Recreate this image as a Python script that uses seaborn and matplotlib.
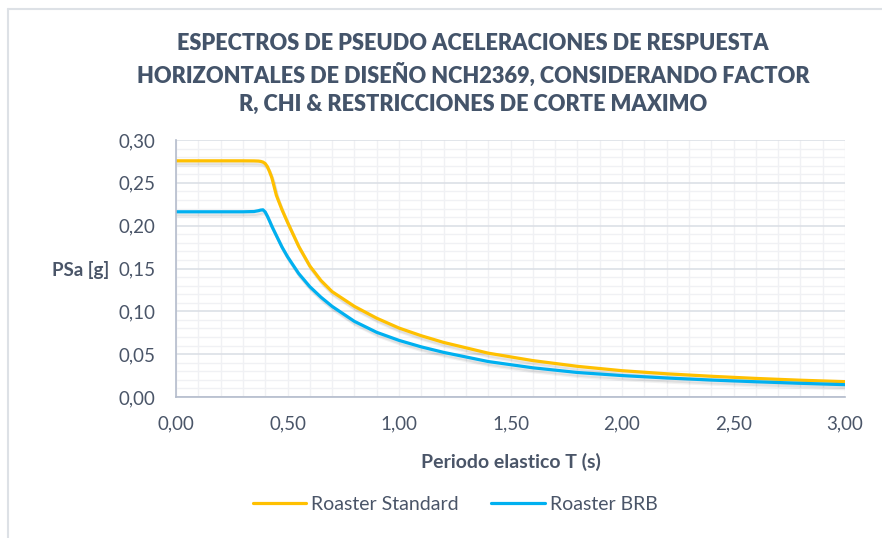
import numpy as np
import pandas as pd
import matplotlib
matplotlib.use("Agg")
import matplotlib.pyplot as plt
import matplotlib.patheffects as pe
from matplotlib.lines import Line2D
from matplotlib.ticker import MultipleLocator, FuncFormatter
import seaborn as sns

# Periodo T (s) and spectral pseudo-accelerations (g)
periodo = [0.00, 0.05, 0.10, 0.15, 0.20, 0.25, 0.30, 0.35, 0.37, 0.38, 0.39, 0.40,
           0.41, 0.42, 0.43, 0.45, 0.475, 0.50, 0.55, 0.60, 0.65, 0.70, 0.80, 0.90,
           1.00, 1.10, 1.20, 1.40, 1.60, 1.80, 2.00, 2.20, 2.40, 2.60, 2.80, 3.00]
psa_standard = [0.2757, 0.2757, 0.2757, 0.2757, 0.2757, 0.2757, 0.2757, 0.2756, 0.2754, 0.2750,
                0.2742, 0.2725, 0.2688, 0.2628, 0.2558, 0.2355, 0.2188, 0.2040, 0.1760, 0.1530,
                0.1360, 0.1230, 0.1058, 0.0920, 0.0805, 0.0715, 0.0637, 0.0512, 0.0425, 0.0358,
                0.0307, 0.0271, 0.0242, 0.0217, 0.0196, 0.0179]
psa_brb = [0.2162, 0.2162, 0.2162, 0.2162, 0.2162, 0.2162, 0.2162, 0.2165, 0.2175, 0.2182,
           0.2185, 0.2160, 0.2110, 0.2052, 0.1992, 0.1885, 0.1752, 0.1638, 0.1442, 0.1288,
           0.1165, 0.1058, 0.0883, 0.0755, 0.0661, 0.0585, 0.0521, 0.0414, 0.0341, 0.0286,
           0.0250, 0.0222, 0.0198, 0.0178, 0.0160, 0.0144]
series_names = ["Roaster Standard", "Roaster BRB"]
series_colors = ["#FFC000", "#00B0F0"]

y_ticks = [0.00, 0.05, 0.10, 0.15, 0.20, 0.25, 0.30]
x_ticks = [0.0, 0.5, 1.0, 1.5, 2.0, 2.5, 3.0]

df = pd.DataFrame({
    "T": periodo * 2,
    "PSa": psa_standard + psa_brb,
    "serie": [series_names[0]] * len(periodo) + [series_names[1]] * len(periodo),
})

sns.set_theme(style="white")
plt.rcParams["font.family"] = ["Lato", "DejaVu Sans"]

text_color = "#4A5568"
title_color = "#44546A"

fig = plt.figure(figsize=(8.82, 5.38), dpi=100)
ax = fig.add_axes([176 / 882, 1 - 397 / 538, 669 / 882, 257 / 538])

sns.lineplot(data=df, x="T", y="PSa", hue="serie", palette=series_colors,
             hue_order=series_names, linewidth=2.3, ax=ax, legend=False,
             estimator=None, sort=False)
for line in ax.get_lines():
    line.set_path_effects([
        pe.SimpleLineShadow(offset=(1.5, -3.0), shadow_color="#000000", alpha=0.05),
        pe.SimpleLineShadow(offset=(1.0, -2.0), shadow_color="#000000", alpha=0.07),
        pe.Normal(),
    ])
    line.set_solid_capstyle("round")
    line.set_solid_joinstyle("round")

ax.set_xlim(0, 3.0)
ax.set_ylim(0, 0.30)
ax.set_xticks(x_ticks)
ax.set_yticks(y_ticks)
ax.xaxis.set_minor_locator(MultipleLocator(0.1))
ax.yaxis.set_minor_locator(MultipleLocator(0.01))
fmt = FuncFormatter(lambda v, p: f"{v:.2f}".replace(".", ","))
ax.xaxis.set_major_formatter(fmt)
ax.yaxis.set_major_formatter(fmt)

ax.grid(which="major", axis="y", color="#DCE0E6", linewidth=1.2)
ax.grid(which="minor", axis="y", color="#F0F1F4", linewidth=1.0)
ax.grid(which="both", axis="x", color="#F0F1F4", linewidth=1.0)
ax.set_axisbelow(True)

for s in ["top", "right"]:
    ax.spines[s].set_visible(False)
for s in ["left", "bottom"]:
    ax.spines[s].set_color("#B4BCCC")
    ax.spines[s].set_linewidth(1.2)

ax.tick_params(axis="both", which="both", length=0, labelsize=13.5, labelcolor=text_color)
ax.tick_params(axis="x", pad=13)
ax.tick_params(axis="y", pad=15)

ax.set_xlabel("Periodo elastico T (s)", fontsize=14, fontweight="bold", color=text_color,
              labelpad=15)
ax.set_ylabel("PSa [g]", fontsize=13.5, fontweight="bold", color=text_color, rotation=0,
              ha="center", va="center")
ax.yaxis.set_label_coords(-0.142, 0.494)

fig.text(473 / 882, 1 - 74 / 538,
         "ESPECTROS DE PSEUDO ACELERACIONES DE RESPUESTA\n"
         "HORIZONTALES DE DISEÑO NCH2369, CONSIDERANDO FACTOR\n"
         "R, CHI & RESTRICCIONES DE CORTE MAXIMO",
         ha="center", va="center", fontsize=15.7, fontweight="heavy", color=title_color,
         linespacing=1.43)

handles = [Line2D([0], [0], color=c, lw=2.3) for c in series_colors]
fig.legend(handles, series_names, loc="center", bbox_to_anchor=(455 / 882, 1 - 504 / 538),
           ncol=2, frameon=False, fontsize=14, labelcolor=text_color,
           handlelength=2.73, handletextpad=0.26, columnspacing=1.7)

# chart area border
fig.add_artist(Line2D([8 / 882, 1.0], [1 - 8.5 / 538] * 2, color="#DDE1E6", lw=1.5))
fig.add_artist(Line2D([8 / 882] * 2, [0.0, 1 - 8.5 / 538], color="#DDE1E6", lw=1.5))

fig.savefig("out.png", dpi=100)
